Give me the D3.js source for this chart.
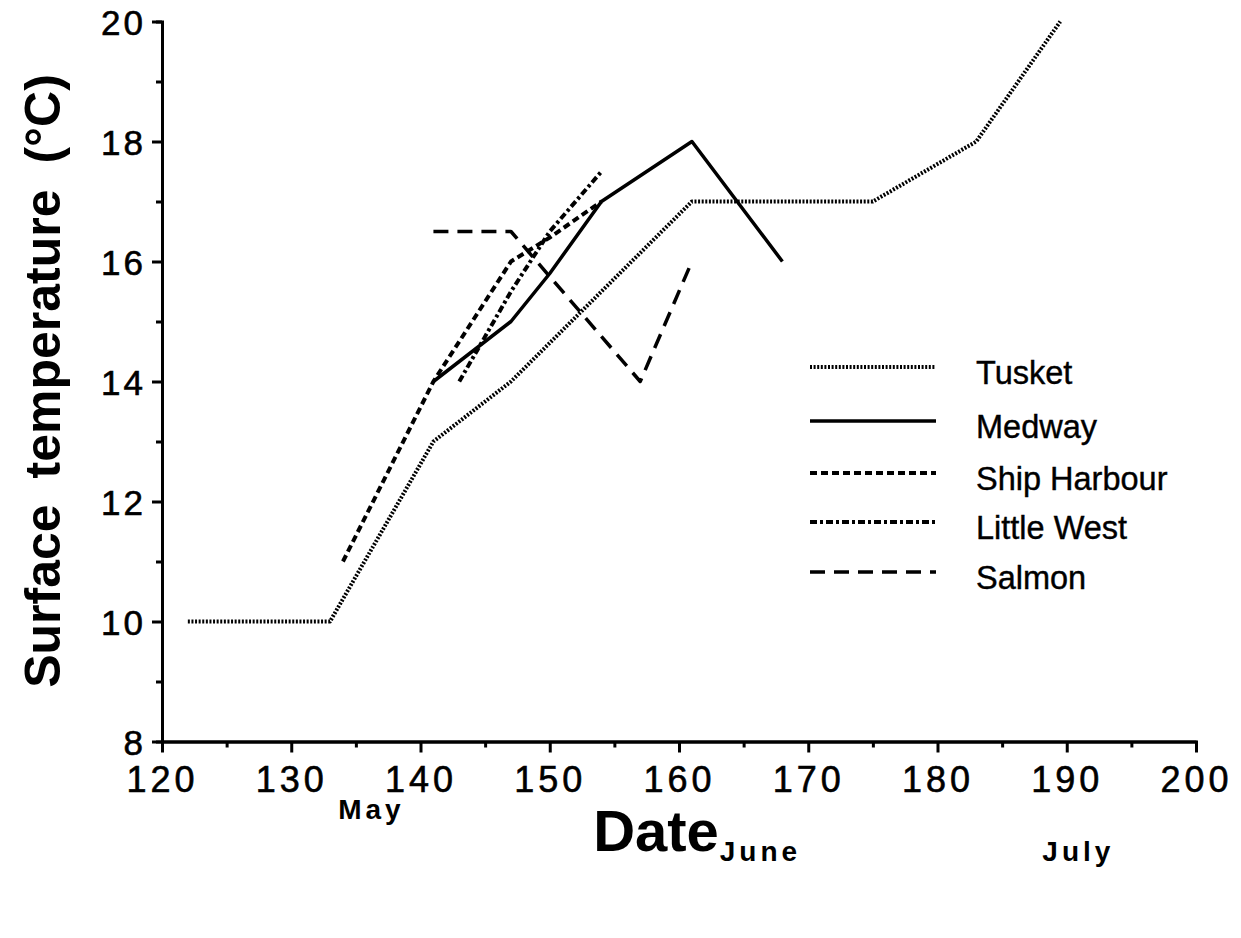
<!DOCTYPE html>
<html>
<head>
<meta charset="utf-8">
<script src="https://cdn.jsdelivr.net/npm/d3@7"></script>
<style>
    body { margin: 0; background: #fff; }
    text { font-family: "Liberation Sans", Arial, sans-serif; fill: #000; }
</style>
</head>
<body>
<div id="chart"></div>
<script>
// series: day of year vs surface temperature
const series_names = ["Tusket", "Medway", "Ship Harbour", "Little West", "Salmon"]
const tusket_day = [122, 133, 141, 147, 161, 175, 183, 189.5]
const tusket_temp = [10, 10, 13, 14, 17, 17, 18, 20]
const medway_day = [141, 147, 150, 154, 161, 168]
const medway_temp = [14, 15, 15.8, 17, 18, 16]
const ship_day = [134, 141, 147, 150, 154]
const ship_temp = [11, 14, 16, 16.4, 17]
const little_day = [143, 147, 150, 154]
const little_temp = [14, 15.5, 16.5, 17.5]
const salmon_day = [141, 147, 157, 161]
const salmon_temp = [16.5, 16.5, 14, 16]

const x_ticks = [120, 130, 140, 150, 160, 170, 180, 190, 200]
const y_ticks = [8, 10, 12, 14, 16, 18, 20]
const months = [{ name: "May", day: 136.2, row: 0 }, { name: "June", day: 166.3, row: 1 }, { name: "July", day: 190.9, row: 1 }]

const config = {
    width: 1241,
    height: 938,
    left: 162,
    right: 1196,
    top: 21.5,
    bottom: 741.5
}

const svg = d3.select("#chart")
    .append("svg")
    .attr("width", config.width)
    .attr("height", config.height)

const scale_x = d3.scaleLinear().domain([120, 200]).range([config.left, config.right])
const scale_y = d3.scaleLinear().domain([8, 20]).range([config.bottom, config.top])

// minor ticks first, then major ticks with labels
const g_axisX_minor = svg.append("g").attr("transform", `translate(0, ${config.bottom})`)
g_axisX_minor.call(d3.axisBottom(scale_x).tickValues(d3.range(125, 200, 10)).tickSize(6).tickFormat(""))
const g_axisX = svg.append("g").attr("transform", `translate(0, ${config.bottom})`)
g_axisX.call(d3.axisBottom(scale_x).tickValues(x_ticks).tickSize(11).tickPadding(14).tickSizeOuter(0))

const g_axisY_minor = svg.append("g").attr("transform", `translate(${config.left}, 0)`)
g_axisY_minor.call(d3.axisLeft(scale_y).tickValues(d3.range(9, 20, 2)).tickSize(6).tickFormat(""))
const g_axisY = svg.append("g").attr("transform", `translate(${config.left}, 0)`)
g_axisY.call(d3.axisLeft(scale_y).tickValues(y_ticks).tickSize(10).tickPadding(6).tickSizeOuter(0))

svg.selectAll(".domain").attr("stroke", "#000").attr("stroke-width", 3)
svg.selectAll(".tick line").attr("stroke", "#000").attr("stroke-width", 3)
g_axisX.selectAll(".tick text")
    .attr("font-size", 36)
    .attr("letter-spacing", "4px")
    .attr("stroke", "#000")
    .attr("stroke-width", 0.6)
    .attr("dy", "0.72em")
g_axisY.selectAll(".tick text")
    .attr("font-size", 35)
    .attr("letter-spacing", "3px")
    .attr("stroke", "#000")
    .attr("stroke-width", 0.6)
    .attr("dy", "0.36em")

// line styles
const styles = [
    { day: tusket_day, temp: tusket_temp, dash: "2,1.6", w: 4 },
    { day: medway_day, temp: medway_temp, dash: null, w: 3.5 },
    { day: ship_day, temp: ship_temp, dash: "7,4", w: 4 },
    { day: little_day, temp: little_temp, dash: "7,3,3,3", w: 4 },
    { day: salmon_day, temp: salmon_temp, dash: "15,9", w: 3.5 }
]

const line = d3.line()
    .x(d => scale_x(d[0]))
    .y(d => scale_y(d[1]))

const g_lines = svg.append("g")
g_lines.selectAll("path")
    .data(styles)
    .join("path")
    .attr("d", d => line(d.day.map((v, i) => [v, d.temp[i]])))
    .attr("fill", "none")
    .attr("stroke", "#000")
    .attr("stroke-width", d => d.w)
    .attr("stroke-dasharray", d => d.dash)
    .attr("stroke-linejoin", "round")

// legend
const legend_y = [367, 421, 473, 522, 572]
const g_legend = svg.append("g")
series_names.forEach((name, i) => {
    g_legend.append("line")
        .attr("x1", 810)
        .attr("x2", 936)
        .attr("y1", legend_y[i])
        .attr("y2", legend_y[i])
        .attr("stroke", "#000")
        .attr("stroke-width", styles[i].w)
        .attr("stroke-dasharray", styles[i].dash)
    g_legend.append("text")
        .attr("x", 976)
        .attr("y", legend_y[i] + 17)
        .attr("font-size", 32.5)
        .attr("stroke", "#000")
        .attr("stroke-width", 0.4)
        .text(name)
})

// month labels
svg.append("g").selectAll("text")
    .data(months)
    .join("text")
    .attr("x", d => scale_x(d.day))
    .attr("y", d => d.row == 0 ? 819 : 861)
    .attr("text-anchor", "middle")
    .attr("font-size", 28)
    .attr("font-weight", "bold")
    .attr("letter-spacing", "4px")
    .text(d => d.name)

// axis titles
svg.append("text")
    .attr("x", 656)
    .attr("y", 851)
    .attr("text-anchor", "middle")
    .attr("font-size", 58)
    .attr("font-weight", "bold")
    .text("Date")

svg.append("text")
    .attr("transform", "translate(60, 381) rotate(-90)")
    .attr("text-anchor", "middle")
    .attr("font-size", 50)
    .attr("font-weight", "bold")
    .attr("word-spacing", "12px")
    .text("Surface temperature (°C)")
</script>
</body>
</html>
